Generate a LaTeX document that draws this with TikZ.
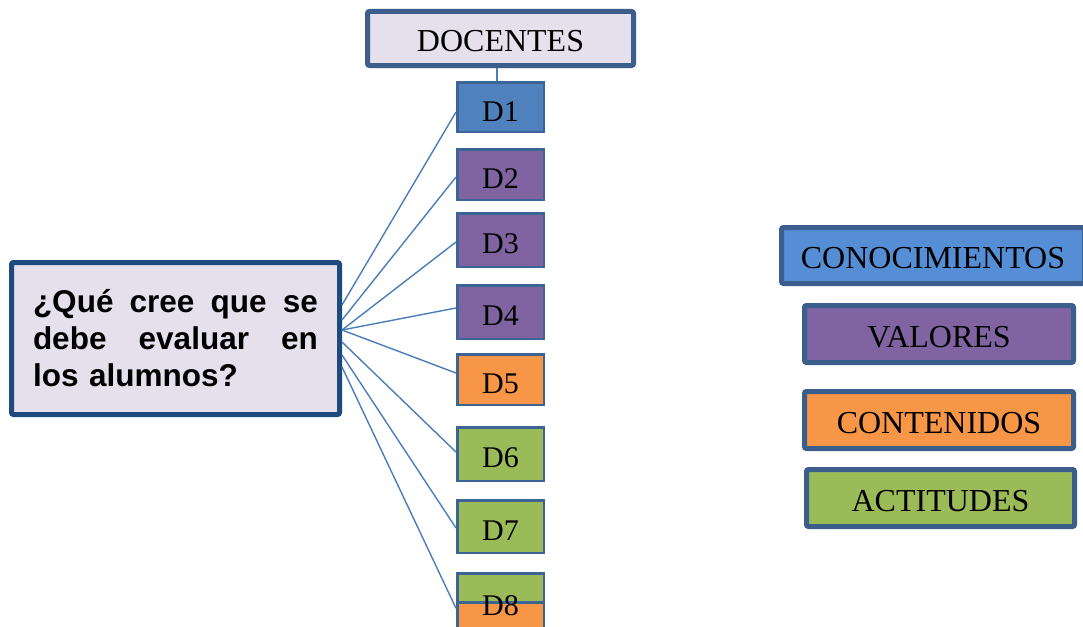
\documentclass[tikz,border=0pt]{standalone}
\usepackage{fontspec}
\setmainfont{Liberation Serif}
\newfontfamily\qfont{Liberation Sans}
\definecolor{lav}{HTML}{E6E0EC}
\definecolor{bord}{HTML}{3B5E8C}
\definecolor{qbord}{HTML}{1F4A7E}
\definecolor{dblue}{HTML}{4F81BD}
\definecolor{dpurple}{HTML}{8064A2}
\definecolor{dorange}{HTML}{F79646}
\definecolor{dgreen}{HTML}{9BBB59}
\definecolor{conoc}{HTML}{558ED5}
\definecolor{linkcol}{HTML}{4A7EBB}
\definecolor{dbord}{HTML}{3C6494}
\begin{document}
\begin{tikzpicture}[x=1pt,y=-1pt,
  bigbox/.style={draw=bord, line width=5pt, rounded corners=2pt, inner sep=0pt,
    text height=26pt, text depth=0pt, font=\fontsize{32}{38}\selectfont},
  dbox/.style={draw=dbord, line width=2.5pt, minimum width=86.5pt, inner sep=0pt,
    text height=27pt, text depth=0pt, font=\fontsize{30}{36}\selectfont},
  link/.style={draw=linkcol, line width=1.4pt}]
\clip (0,0) rectangle (1083,626);
\fill[white] (0,0) rectangle (1083,626);
% main boxes
\node[bigbox, fill=lav, minimum width=266pt, minimum height=54pt,
  text height=27pt] (doc) at (500.5,38.5) {DOCENTES};
\node[bigbox, draw=qbord, fill=lav, minimum width=328pt, minimum height=152pt,
  text height=, text depth=, text width=285pt, align=left,
  font=\qfont\bfseries\fontsize{31.5}{37}\selectfont] (q) at (175.5,338.5)
  {\leavevmode\hbox to 285pt{¿Qué\hfill cree\hfill que\hfill se}\\
   \leavevmode\hbox to 285pt{debe\hfill evaluar\hfill en}\\
   los alumnos?};
% D boxes
\node[dbox, fill=dblue, minimum height=49.5pt, text height=29pt] (d1) at (500.5,107) {D1};
\node[dbox, fill=dpurple, minimum height=50.5pt] (d2) at (500.5,174.5) {D2};
\node[dbox, fill=dpurple, minimum height=53.5pt] (d3) at (500.5,240) {D3};
\node[dbox, fill=dpurple, minimum height=53.5pt] (d4) at (500.5,312) {D4};
\node[dbox, fill=dorange, minimum height=50.5pt] (d5) at (500.5,379.5) {D5};
\node[dbox, fill=dgreen, minimum height=53.5pt] (d6) at (500.5,454) {D6};
\node[dbox, fill=dgreen, minimum height=52.5pt] (d7) at (500.5,526.5) {D7};
\node[dbox, fill=dgreen, minimum height=80pt] (d8) at (500.5,613.25) {};
\node[dbox, fill=dorange, minimum height=80pt] (d8b) at (500.5,642.25) {};
\node[font=\fontsize{30}{36}\selectfont, inner sep=0pt, anchor=base] (d8t) at (500.5,615) {D8};
% legend
\node[bigbox, fill=conoc, minimum width=303pt, minimum height=56pt] (cono) at (933,255.5) {CONOCIMIENTOS};
\node[bigbox, fill=dpurple, minimum width=269pt, minimum height=57pt] (val) at (939,334) {VALORES};
\node[bigbox, fill=dorange, minimum width=269pt, minimum height=57pt] (cont) at (939,420) {CONTENIDOS};
\node[bigbox, fill=dgreen, minimum width=268pt, minimum height=57pt] (act) at (940.5,498) {ACTITUDES};
% connectors
\draw[link] ([xshift=-3.5pt]doc.south) -- ([xshift=-3.5pt]d1.north);
\draw[link] ([yshift=33.5pt]q.east) -- ([yshift=-5pt]d1.west);
\draw[link] ([yshift=18.5pt]q.east) -- ([yshift=-2.5pt]d2.west);
\draw[link] ([yshift=8.5pt]q.east) -- ([yshift=-2pt]d3.west);
\draw[link] ([yshift=8.5pt]q.east) -- ([yshift=4pt]d4.west);
\draw[link] ([yshift=8.5pt]q.east) -- ([yshift=6.5pt]d5.west);
\draw[link] ([yshift=-3.5pt]q.east) -- ([yshift=2pt]d6.west);
\draw[link] ([yshift=-16.5pt]q.east) -- ([yshift=-1.5pt]d7.west);
\draw[link] ([yshift=-28.5pt]q.east) -- ([yshift=5pt]d8.west);
\end{tikzpicture}
\end{document}
